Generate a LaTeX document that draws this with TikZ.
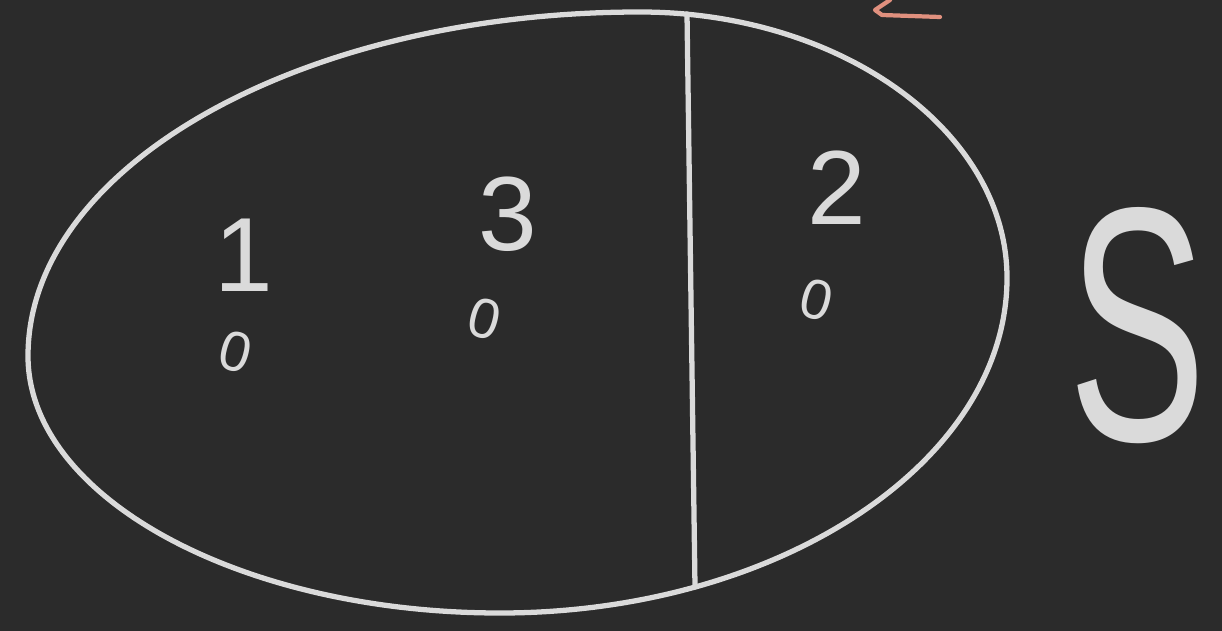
\documentclass[tikz,border=0pt]{standalone}
\usepackage{fontspec}
\setmainfont{Liberation Sans}
\usepackage{tikz}
\usetikzlibrary{positioning}

\definecolor{tafel}{HTML}{2B2B2B}
\definecolor{kreide}{HTML}{DADADA}
\definecolor{rotkreide}{HTML}{E0907E}

\tikzset{
  strich/.style={draw=kreide, line width=3pt, line cap=round, line join=round},
  zahl/.style={text=kreide, inner sep=0pt, font=\fontsize{60}{60}\selectfont},
  null/.style={text=kreide, inner sep=0pt, rotate=-15, font=\fontsize{32}{32}\selectfont}
}

\begin{document}
\begin{tikzpicture}[x=0.02cm, y=-0.02cm]
  % Tafel
  \fill[tafel] (0,0) rectangle (1222,631);
  \useasboundingbox (0,0) rectangle (1222,631);

  % Menge
  \coordinate (links) at (28,356);
  \coordinate (scheitel) at (640,12);
  \coordinate (rechts) at (1007,278);
  \coordinate (boden) at (500,613);
  \draw[strich]
    (links) .. controls (28,166) and (302,12) .. (scheitel)
            .. controls (842,12) and (1007,132) .. (rechts)
            .. controls (1007,462) and (779,613) .. (boden)
            .. controls (240,613) and (28,497) .. (links) -- cycle;

  % Trennlinie
  \coordinate (oben) at (687,14);
  \coordinate (unten) at (695,587);
  \draw[strich] (oben) -- (unten);

  % Elemente
  \node[zahl] (eins) at (244,255) {1};
  \node[zahl] (drei) at (508,214) {3};
  \node[zahl] (zwei) at (837,188) {2};
  \node[null] (n1) at (236,352) {0};
  \node[null] (n3) at (485,319) {0};
  \node[null] (n2) at (817,300) {0};

  % Name
  \node[text=kreide, inner sep=0pt, xscale=0.62,
        font=\fontsize{190}{190}\selectfont] (name) at (1138,326) {S};

  % Rest oben
  \draw[rotkreide, line width=2.4pt, line cap=round, line join=round]
    (890,0) -- (875,10) -- (882,15) -- (940,17);
\end{tikzpicture}
\end{document}
